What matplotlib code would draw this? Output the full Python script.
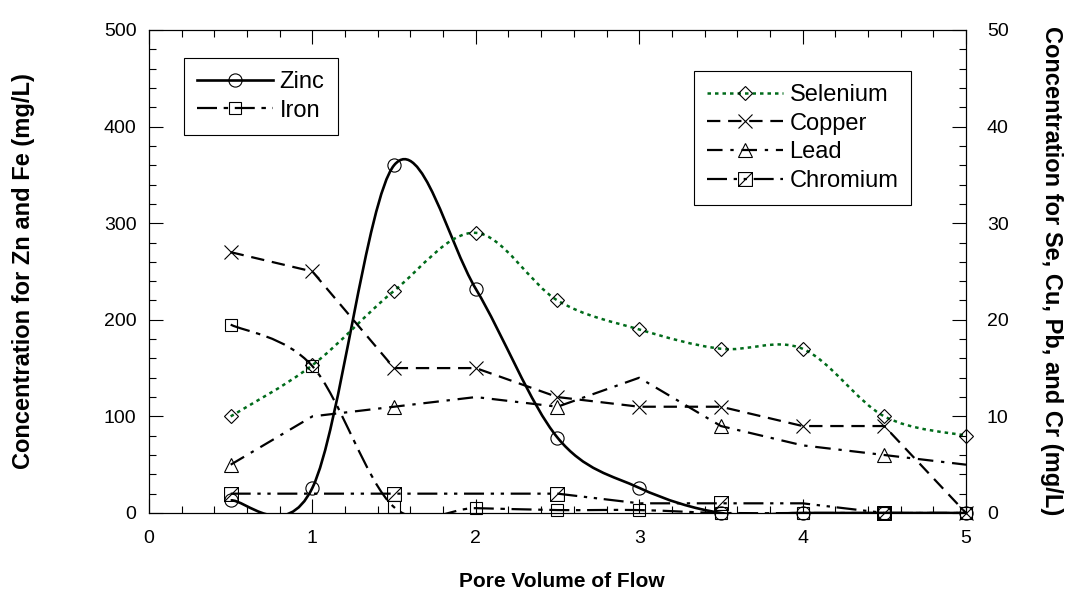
import matplotlib
matplotlib.use("Agg")
import matplotlib.pyplot as plt
from matplotlib.path import Path
from matplotlib.patches import PathPatch
from matplotlib.lines import Line2D

plt.rcParams['font.family'] = ['Liberation Sans', 'DejaVu Sans']

# Data
pore_volume = [0.5, 1.0, 1.5, 2.0, 2.5, 3.0, 3.5, 4.0, 4.5, 5.0]
zinc = [13, 26, 360, 232, 78, 26, 0, 0, 0, 0]          # mg/L, left axis
iron = [195, 152, 6, 5, 3, 3, 0, 0, 0, 0]              # mg/L, left axis
selenium = [10, 15.3, 23, 29, 22, 19, 17, 17, 10, 8]   # mg/L, right axis
copper = [27, 25, 15, 15, 12, 11, 11, 9, 9, 0]         # mg/L, right axis
lead = [5, 10, 11, 12, 11, 14, 9, 7, 6, 5]             # mg/L, right axis
chromium = [2, 2, 2, 2, 2, 1, 1, 1, 0, 0]              # mg/L, right axis

green = '#006b1a'


def smooth_path(x, y):
    # Excel-style smoothed line: cubic Bezier segments through every point
    verts = [(x[0], y[0])]
    codes = [Path.MOVETO]
    n = len(x)
    for i in range(n - 1):
        p0 = max(i - 1, 0)
        p3 = min(i + 2, n - 1)
        c1 = (x[i] + (x[i + 1] - x[p0]) / 6, y[i] + (y[i + 1] - y[p0]) / 6)
        c2 = (x[i + 1] - (x[p3] - x[i]) / 6, y[i + 1] - (y[p3] - y[i]) / 6)
        verts += [c1, c2, (x[i + 1], y[i + 1])]
        codes += [Path.CURVE4] * 3
    return Path(verts, codes)


# square with a diagonal for chromium
cr_marker = Path([(-1, -1), (1, -1), (1, 1), (-1, 1), (-1, -1), (-1, -1), (1, 1)],
                 [Path.MOVETO, Path.LINETO, Path.LINETO, Path.LINETO, Path.CLOSEPOLY,
                  Path.MOVETO, Path.LINETO])

fig = plt.figure(figsize=(10.68, 5.94), dpi=100)
ax = fig.add_axes([0.1395, 0.1364, 0.765, 0.8131])
ax2 = ax.twinx()

mk = dict(mfc='none', mec='black', mew=0.8, linestyle='none', clip_on=False)

# Zinc and iron on the left axis (smoothed)
zn_ls = '-'
fe_ls = (0, (9, 3, 2, 3))
ax.add_patch(PathPatch(smooth_path(pore_volume, zinc), fill=False, lw=1.9,
                       ec='black', ls=zn_ls))
ax.add_patch(PathPatch(smooth_path(pore_volume, iron), fill=False, lw=1.6,
                       ec='black', ls=fe_ls))
ax.plot(pore_volume, zinc, marker='o', ms=9.5, zorder=3, **mk)
ax.plot(pore_volume, iron, marker='s', ms=9, zorder=3, **mk)

# Se (smoothed), Cu, Pb, Cr on the right axis
se_ls = (0, (1.4, 1.6))
cu_ls = (0, (6, 3.5))
pb_ls = (0, (7, 3.5, 1.5, 3.5))
cr_ls = (0, (9, 3, 1.5, 3, 1.5, 3))
ax2.add_patch(PathPatch(smooth_path(pore_volume, selenium), fill=False, lw=1.8,
                        ec=green, ls=se_ls))
ax2.plot(pore_volume, copper, color='black', lw=1.6, ls=cu_ls)
ax2.plot(pore_volume, lead, color='black', lw=1.6, ls=pb_ls)
ax2.plot(pore_volume, chromium, color='black', lw=1.6, ls=cr_ls)
ax2.plot(pore_volume, selenium, marker='D', ms=7, zorder=3, **mk)
ax2.plot(pore_volume, copper, marker='x', ms=10, zorder=3, **mk)
ax2.plot(pore_volume, lead, marker='^', ms=10, markevery=2, zorder=3, **mk)
ax2.plot(pore_volume, chromium, marker=cr_marker, ms=10, markevery=2, zorder=3, **mk)

ax.set_xlim(0, 5)
ax.set_ylim(0, 500)
ax2.set_ylim(0, 50)
ax.set_xticks([0, 1, 2, 3, 4, 5])
ax.set_xticks([i * 0.2 for i in range(26)], minor=True)
ax.set_yticks(range(0, 501, 100))
ax.set_yticks(range(0, 501, 20), minor=True)
ax2.set_yticks(range(0, 51, 10))
ax2.set_yticks(range(0, 51, 2), minor=True)

ax.tick_params(axis='x', which='both', direction='in', top=True, labelsize=14, pad=12)
ax.tick_params(axis='y', which='both', direction='in', right=False, labelsize=14, pad=9)
ax2.tick_params(axis='y', which='both', direction='in', labelsize=14, pad=15)
for a in (ax, ax2):
    a.tick_params(which='major', length=10, width=0.8)
    a.tick_params(which='minor', length=5, width=0.8)
    for s in a.spines.values():
        s.set_linewidth(0.8)

fig.text(0.526, 0.011, 'Pore Volume of Flow', ha='center', va='baseline',
         fontsize=15, fontweight='bold')
fig.text(0.022, 0.544, 'Concentration for Zn and Fe (mg/L)', ha='center', va='center',
         rotation=90, fontsize=17, fontweight='bold')
fig.text(0.985, 0.544, 'Concentration for Se, Cu, Pb, and Cr (mg/L)', ha='center',
         va='center', rotation=270, fontsize=17, fontweight='bold')

# legends
h_left = [Line2D([], [], color='black', lw=1.9, ls=zn_ls, marker='o', ms=9.5, mfc='none', mew=0.8),
          Line2D([], [], color='black', lw=1.6, ls=fe_ls, marker='s', ms=9, mfc='none', mew=0.8)]
h_right = [Line2D([], [], color=green, lw=1.8, ls=se_ls, marker='D', ms=7, mfc='none', mec='black', mew=0.8),
           Line2D([], [], color='black', lw=1.6, ls=cu_ls, marker='x', ms=10, mew=0.8),
           Line2D([], [], color='black', lw=1.6, ls=pb_ls, marker='^', ms=10, mfc='none', mew=0.8),
           Line2D([], [], color='black', lw=1.6, ls=cr_ls, marker=cr_marker, ms=10, mfc='none', mew=0.8)]
leg_kw = dict(loc='upper left', fontsize=17, numpoints=1, fancybox=False, edgecolor='black',
              framealpha=1, handlelength=3.2, handletextpad=0.3, labelspacing=0.28,
              borderpad=0.55, borderaxespad=0, bbox_transform=fig.transFigure)
leg1 = ax2.legend(h_left, ['Zinc', 'Iron'], bbox_to_anchor=(0.1723, 0.9024), **leg_kw)
leg1.get_frame().set_linewidth(0.8)
ax2.add_artist(leg1)
leg2 = ax2.legend(h_right, ['Selenium', 'Copper', 'Lead', 'Chromium'],
                  bbox_to_anchor=(0.6498, 0.8805), **leg_kw)
leg2.get_frame().set_linewidth(0.8)

fig.savefig('out.png', dpi=100)
